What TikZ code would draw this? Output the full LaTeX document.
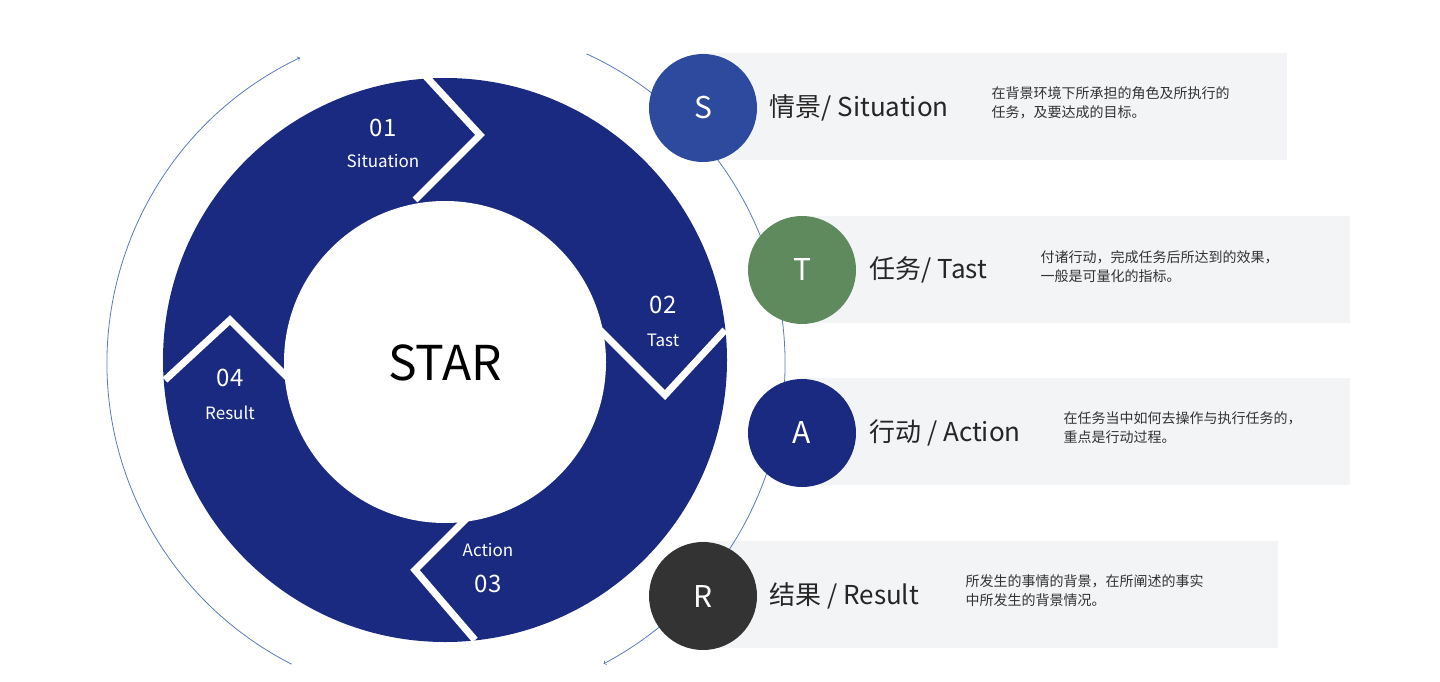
\documentclass[tikz,border=0pt]{standalone}
\usepackage{fontspec}
\setmainfont{Noto Sans CJK SC}
\begin{document}
\begin{tikzpicture}[x=1pt,y=-1pt,
  navy/.style={fill=ring},
  gap/.style={draw=white,line width=7pt,line join=miter},
  letter/.style={circle,minimum size=108pt,inner sep=0pt,text=white,font=\fontsize{30}{30}\selectfont},
  box/.style={fill=boxgray},
  title/.style={anchor=west,font=\fontsize{26}{26}\selectfont,text=black!85},
  desc/.style={anchor=west,align=left,font=\fontsize{14}{19}\selectfont,text=black!80},
  seg/.style={text=white,font=\fontsize{24}{24}\selectfont},
  segs/.style={text=white,font=\fontsize{17}{17}\selectfont},
  thin/.style={draw=arcblue,line width=0.8pt}]
\definecolor{ring}{HTML}{1A2A80}
\definecolor{boxgray}{HTML}{F3F4F6}
\definecolor{arcblue}{HTML}{5A7AB8}
\definecolor{cS}{HTML}{2E4A9E}
\definecolor{cT}{HTML}{5E8A5E}
\definecolor{cA}{HTML}{1A2A80}
\definecolor{cR}{HTML}{333333}
\useasboundingbox (0,0) rectangle (1440,682);
% boxes
\fill[box] (700,53) rectangle (1287,160);
\fill[box] (800,216) rectangle (1350,323);
\fill[box] (800,378) rectangle (1350,485);
\fill[box] (700,541) rectangle (1278,648);
% thin arcs
\draw[thin,<-] (445,363) ++(-115.4:338) arc[start angle=-115.4,end angle=-243,radius=338] coordinate (la);
\draw[thin,->] (445,363) ++(-65.4:340) arc[start angle=-65.4,end angle=62.2,radius=340] coordinate (ra);
% ring
\fill[ring] (445,360) circle[radius=282];
\draw[gap] (420,70) -- (480,135) -- (415,200);
\draw[gap] (725,330) -- (665,395) -- (600,330);
\draw[gap] (475,510) -- (415,570) -- (475,640);
\draw[gap] (165,380) -- (230,320) -- (290,380);
\fill[white] (445,362) circle[radius=161];
\node (star) at (445,363) {\fontsize{48}{48}\selectfont STAR};
\node[seg] (n1) at (383,128) {01};
\node[segs] (s1) at (383,161) {Situation};
\node[seg] (n2) at (663,305) {02};
\node[segs] (s2) at (663,340) {Tast};
\node[seg] (n4) at (230,378) {04};
\node[segs] (s4) at (230,413) {Result};
\node[segs] (s3) at (488,550) {Action};
\node[seg] (n3) at (488,584) {03};
% letter circles
\node[letter,fill=cS] (S) at (703,108) {S};
\node[letter,fill=cT] (T) at (802,270) {T};
\node[letter,fill=cA] (A) at (802,433) {A};
\node[letter,fill=cR] (R) at (703,596) {R};
% titles
\node[title] (tS) at (766,108) {情景/ Situation};
\node[title] (tT) at (866,270) {任务/ Tast};
\node[title] (tA) at (866,433) {行动 / Action};
\node[title] (tR) at (766,596) {结果 / Result};
\node[desc] (dS) at (988,103) {在背景环境下所承担的角色及所执行的\\任务，及要达成的目标。};
\node[desc] (dT) at (1037,267) {付诸行动，完成任务后所达到的效果，\\一般是可量化的指标。};
\node[desc] (dA) at (1060,428) {在任务当中如何去操作与执行任务的，\\重点是行动过程。};
\node[desc] (dR) at (962,591) {所发生的事情的背景，在所阐述的事实\\中所发生的背景情况。};
\end{tikzpicture}
\end{document}
